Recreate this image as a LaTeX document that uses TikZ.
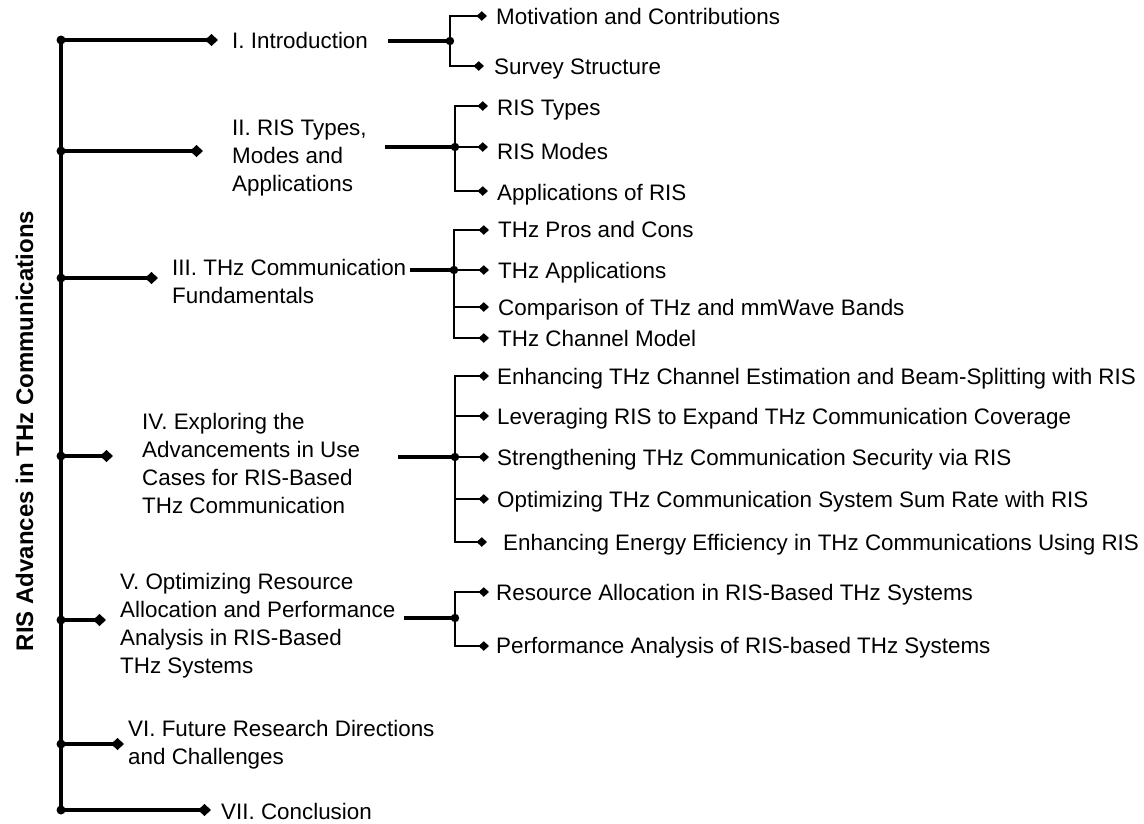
\documentclass[tikz,border=0pt]{standalone}
\usepackage{fontspec}
\setmainfont{Liberation Sans}
\usetikzlibrary{arrows.meta}
\begin{document}
\begin{tikzpicture}[x=1pt,y=-1pt,
  txt/.style={inner sep=0pt,font=\fontsize{22.4}{28}\selectfont},
  sec/.style={txt,anchor=north west,align=left},
  item/.style={txt,anchor=base west},
  trunk/.style={line width=3.2pt},
  twig/.style={line width=3.2pt},
  mainarrow/.style={line width=3.2pt,-{Diamond[length=13pt,width=12pt]}},
  subarrow/.style={line width=2.4pt,-{Diamond[length=10.5pt,width=9.5pt]}}]
\useasboundingbox (0,0) rectangle (1144,823);

% title
\node[rotate=90,anchor=base,inner sep=0pt,font=\bfseries\fontsize{24}{28}\selectfont] (title) at (33,431) {RIS Advances in THz Communications};

% level-1 junctions and tips
\coordinate (d1) at (61,40);  \coordinate (t1) at (218,40);
\coordinate (d2) at (61,151); \coordinate (t2) at (203,151);
\coordinate (d3) at (61,278); \coordinate (t3) at (158,278);
\coordinate (d4) at (61,456); \coordinate (t4) at (113,456);
\coordinate (d5) at (61,620); \coordinate (t5) at (106,620);
\coordinate (d6) at (61,744); \coordinate (t6) at (124,744);
\coordinate (d7) at (61,810); \coordinate (t7) at (211,810);

\draw[trunk] (d1) -- (d7);
\foreach \i in {1,...,7}{
  \draw[mainarrow] (d\i) -- (t\i);
  \fill (d\i) circle (4.5pt);
}

% section labels
\node[item] (s1) at (232,48) {I. Introduction};
\node[sec] (s2) at (232,120) {II. RIS Types,\\Modes and\\Applications};
\node[sec] (s3) at (172,259) {III. THz Communication\\Fundamentals};
\node[sec] (s4) at (142,413) {IV. Exploring the\\Advancements in Use\\Cases for RIS-Based\\THz Communication};
\node[sec] (s5) at (120,573) {V. Optimizing Resource\\Allocation and Performance\\Analysis in RIS-Based\\THz Systems};
\node[sec] (s6) at (128,720) {VI. Future Research Directions\\and Challenges};
\node[item] (s7) at (221,819) {VII. Conclusion};

% ---- block I
\coordinate (e1) at (388,41); \coordinate (b1) at (450,41);
\coordinate (p11) at (487,16); \coordinate (p12) at (484,66);
\draw[twig] (e1) -- (b1);
\draw[subarrow] (b1) |- (p11);
\draw[subarrow] (b1) |- (p12);
\fill (b1) circle (4.2pt);
\node[item] (i11) at (496,24) {Motivation and Contributions};
\node[item] (i12) at (494,74) {Survey Structure};

% ---- block II
\coordinate (e2) at (385,147); \coordinate (b2) at (455,147);
\coordinate (p21) at (488,106); \coordinate (p22) at (488,147); \coordinate (p23) at (488,191);
\draw[twig] (e2) -- (b2);
\draw[subarrow] (b2) |- (p21);
\draw[subarrow] (b2) -- (p22);
\draw[subarrow] (b2) |- (p23);
\fill (b2) circle (4.2pt);
\node[item] (i21) at (497,115) {RIS Types};
\node[item] (i22) at (497,159) {RIS Modes};
\node[item] (i23) at (497,200) {Applications of RIS};

% ---- block III
\coordinate (e3) at (410,270); \coordinate (b3) at (454,270);
\coordinate (p31) at (489,230); \coordinate (p32) at (489,270);
\coordinate (p33) at (489,307); \coordinate (p34) at (489,338);
\draw[twig] (e3) -- (b3);
\draw[subarrow] (b3) |- (p31);
\draw[subarrow] (b3) -- (p32);
\draw[subarrow] (b3) |- (p33);
\draw[subarrow] (b3) |- (p34);
\fill (b3) circle (4.2pt);
\node[item] (i31) at (498,237) {THz Pros and Cons};
\node[item] (i32) at (498,278) {THz Applications};
\node[item] (i33) at (498,315) {Comparison of THz and mmWave Bands};
\node[item] (i34) at (498,346) {THz Channel Model};

% ---- block IV
\coordinate (e4) at (398,457); \coordinate (b4) at (455,457);
\coordinate (p41) at (489,376); \coordinate (p42) at (489,416);
\coordinate (p43) at (489,457); \coordinate (p44) at (489,499);
\coordinate (p45) at (487,542);
\draw[twig] (e4) -- (b4);
\draw[subarrow] (b4) |- (p41);
\draw[subarrow] (b4) |- (p42);
\draw[subarrow] (b4) -- (p43);
\draw[subarrow] (b4) |- (p44);
\draw[subarrow] (b4) |- (p45);
\fill (b4) circle (4.2pt);
\node[item] (i41) at (497,384) {Enhancing THz Channel Estimation and Beam-Splitting with RIS};
\node[item] (i42) at (497,424) {Leveraging RIS to Expand THz Communication Coverage};
\node[item] (i43) at (497,465) {Strengthening THz Communication Security via RIS};
\node[item] (i44) at (497,507) {Optimizing THz Communication System Sum Rate with RIS};
\node[item] (i45) at (503,550) {Enhancing Energy Efficiency in THz Communications Using RIS};

% ---- block V
\coordinate (e5) at (404,618); \coordinate (b5) at (455,618);
\coordinate (p51) at (489,592); \coordinate (p52) at (489,646);
\draw[twig] (e5) -- (b5);
\draw[subarrow] (b5) |- (p51);
\draw[subarrow] (b5) |- (p52);
\fill (b5) circle (4.2pt);
\node[item] (i51) at (496,600) {Resource Allocation in RIS-Based THz Systems};
\node[item] (i52) at (496,653) {Performance Analysis of RIS-based THz Systems};
\end{tikzpicture}
\end{document}
